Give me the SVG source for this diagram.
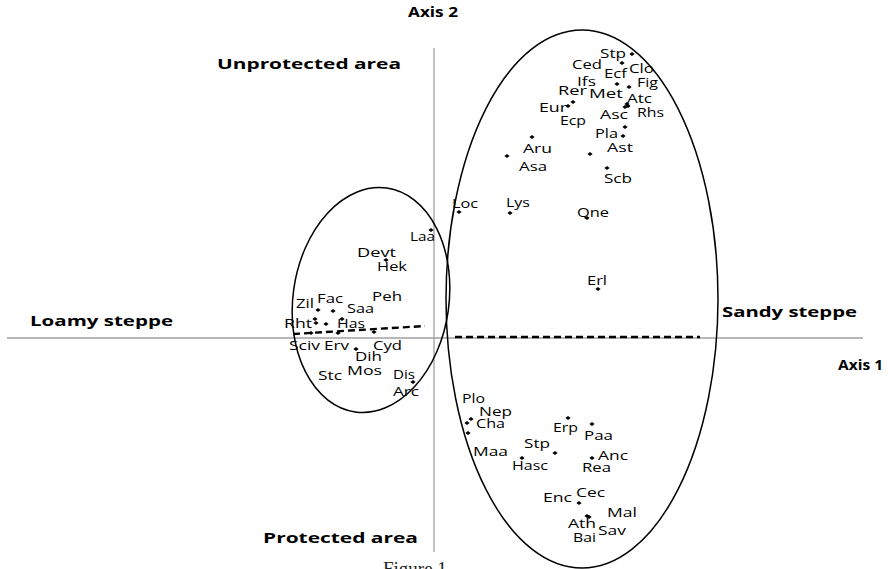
<svg xmlns="http://www.w3.org/2000/svg" xmlns:xlink="http://www.w3.org/1999/xlink" width="888" height="569" viewBox="0 0 888 569">
<style>
.lb{font-family:"Open Sans","Liberation Sans",sans-serif;font-size:12px;fill:#000}
.bd{font-family:"Open Sans","Liberation Sans",sans-serif;font-size:15px;font-weight:bold;fill:#000}
.ax{stroke:#a0a0a0;stroke-width:1.3;fill:none}
.el{stroke:#000;stroke-width:1.5;fill:none}
.ds{stroke:#000;stroke-width:2.4;fill:none;stroke-dasharray:7 4}
.cap{font-family:"Liberation Serif","Times New Roman",serif;font-size:19px;fill:#222}
</style>
<defs>
<path id="dot" d="M-2.6 0L0-2L2.6 0L0 2Z" fill="#000"/>
</defs>
<rect width="888" height="569" fill="#fff"/>
<g id="axes">
<line class="ax" x1="7" y1="338" x2="863" y2="338"/>
<line class="ax" x1="434" y1="48" x2="434" y2="552"/>
</g>
<g id="connectors">
<ellipse id="loamy-ellipse" class="el" cx="371" cy="300" rx="78" ry="113" transform="rotate(8 371 300)"/>
<ellipse id="sandy-ellipse" class="el" cx="582" cy="299" rx="136" ry="269"/>
<line class="ds" x1="293" y1="334" x2="425" y2="326"/>
<line class="ds" x1="455" y1="337" x2="700" y2="337"/>
</g>
<g id="titles">
<text class="bd" x="408" y="17" font-size="14" textLength="50" lengthAdjust="spacingAndGlyphs">Axis 2</text>
<text class="bd" x="217" y="69" textLength="184" lengthAdjust="spacingAndGlyphs">Unprotected area</text>
<text class="bd" x="30" y="326" textLength="143" lengthAdjust="spacingAndGlyphs">Loamy steppe</text>
<text class="bd" x="722" y="317" textLength="135" lengthAdjust="spacingAndGlyphs">Sandy steppe</text>
<text class="bd" x="838" y="370" font-size="14" textLength="45" lengthAdjust="spacingAndGlyphs">Axis 1</text>
<text class="bd" x="263" y="543" font-size="16" textLength="155" lengthAdjust="spacingAndGlyphs">Protected area</text>
<text class="cap" x="383" y="575">Figure 1</text>
</g>
<g id="dots">
<use href="#dot" x="431" y="230"/><use href="#dot" x="386" y="260"/><use href="#dot" x="318" y="310"/><use href="#dot" x="333" y="311"/><use href="#dot" x="342" y="319"/><use href="#dot" x="326" y="324"/><use href="#dot" x="315" y="319"/><use href="#dot" x="316" y="323"/><use href="#dot" x="311" y="333"/><use href="#dot" x="338" y="333"/><use href="#dot" x="374" y="332"/><use href="#dot" x="356" y="349"/><use href="#dot" x="413" y="382"/>
<use href="#dot" x="632" y="54"/><use href="#dot" x="622" y="63"/><use href="#dot" x="617" y="84"/><use href="#dot" x="629" y="87"/><use href="#dot" x="627" y="104"/><use href="#dot" x="628" y="106"/><use href="#dot" x="625" y="107"/><use href="#dot" x="573" y="102"/><use href="#dot" x="568" y="106"/><use href="#dot" x="625" y="127"/><use href="#dot" x="623" y="136"/><use href="#dot" x="532" y="137"/><use href="#dot" x="507" y="156"/><use href="#dot" x="590" y="154"/><use href="#dot" x="607" y="168"/><use href="#dot" x="459" y="212"/><use href="#dot" x="510" y="213"/><use href="#dot" x="587" y="218"/><use href="#dot" x="598" y="289"/>
<use href="#dot" x="471" y="419"/><use href="#dot" x="467" y="423"/><use href="#dot" x="468" y="433"/><use href="#dot" x="568" y="418"/><use href="#dot" x="592" y="424"/><use href="#dot" x="555" y="453"/><use href="#dot" x="522" y="458"/><use href="#dot" x="592" y="458"/><use href="#dot" x="579" y="503"/><use href="#dot" x="587" y="516"/><use href="#dot" x="589" y="517"/>
</g>
<g id="loamy-labels">
<text class="lb" x="410" y="241" textLength="25" lengthAdjust="spacingAndGlyphs">Laa</text>
<text class="lb" x="357" y="257" textLength="39" lengthAdjust="spacingAndGlyphs">Devt</text>
<text class="lb" x="377" y="271" textLength="30" lengthAdjust="spacingAndGlyphs">Hek</text>
<text class="lb" x="372" y="301" textLength="30" lengthAdjust="spacingAndGlyphs">Peh</text>
<text class="lb" x="317" y="303" textLength="26" lengthAdjust="spacingAndGlyphs">Fac</text>
<text class="lb" x="296" y="308" textLength="18" lengthAdjust="spacingAndGlyphs">Zil</text>
<text class="lb" x="347" y="313" textLength="27" lengthAdjust="spacingAndGlyphs">Saa</text>
<text class="lb" x="284" y="328" textLength="28" lengthAdjust="spacingAndGlyphs">Rht</text>
<text class="lb" x="337" y="328" textLength="28" lengthAdjust="spacingAndGlyphs">Has</text>
<text class="lb" x="289" y="350" textLength="31" lengthAdjust="spacingAndGlyphs">Sciv</text>
<text class="lb" x="324" y="350" textLength="25" lengthAdjust="spacingAndGlyphs">Erv</text>
<text class="lb" x="373" y="350" textLength="29" lengthAdjust="spacingAndGlyphs">Cyd</text>
<text class="lb" x="355" y="361" textLength="27" lengthAdjust="spacingAndGlyphs">Dih</text>
<text class="lb" x="347" y="375" textLength="35" lengthAdjust="spacingAndGlyphs">Mos</text>
<text class="lb" x="318" y="380" textLength="24" lengthAdjust="spacingAndGlyphs">Stc</text>
<text class="lb" x="393" y="379" textLength="22" lengthAdjust="spacingAndGlyphs">Dis</text>
<text class="lb" x="393" y="396" textLength="26" lengthAdjust="spacingAndGlyphs">Arc</text>
</g>
<g id="sandy-unprotected-labels">
<text class="lb" x="600" y="58" textLength="26" lengthAdjust="spacingAndGlyphs">Stp</text>
<text class="lb" x="572" y="69" textLength="30" lengthAdjust="spacingAndGlyphs">Ced</text>
<text class="lb" x="629" y="73" textLength="25" lengthAdjust="spacingAndGlyphs">Clo</text>
<text class="lb" x="604" y="78" textLength="23" lengthAdjust="spacingAndGlyphs">Ecf</text>
<text class="lb" x="637" y="87" textLength="21" lengthAdjust="spacingAndGlyphs">Fig</text>
<text class="lb" x="577" y="86" textLength="19" lengthAdjust="spacingAndGlyphs">Ifs</text>
<text class="lb" x="558" y="95" textLength="29" lengthAdjust="spacingAndGlyphs">Rer</text>
<text class="lb" x="589" y="98" textLength="34" lengthAdjust="spacingAndGlyphs">Met</text>
<text class="lb" x="627" y="103" textLength="25" lengthAdjust="spacingAndGlyphs">Atc</text>
<text class="lb" x="539" y="112" textLength="28" lengthAdjust="spacingAndGlyphs">Eur</text>
<text class="lb" x="637" y="117" textLength="27" lengthAdjust="spacingAndGlyphs">Rhs</text>
<text class="lb" x="600" y="119" textLength="28" lengthAdjust="spacingAndGlyphs">Asc</text>
<text class="lb" x="560" y="125" textLength="26" lengthAdjust="spacingAndGlyphs">Ecp</text>
<text class="lb" x="595" y="138" textLength="23" lengthAdjust="spacingAndGlyphs">Pla</text>
<text class="lb" x="523" y="153" textLength="29" lengthAdjust="spacingAndGlyphs">Aru</text>
<text class="lb" x="607" y="152" textLength="26" lengthAdjust="spacingAndGlyphs">Ast</text>
<text class="lb" x="519" y="171" textLength="28" lengthAdjust="spacingAndGlyphs">Asa</text>
<text class="lb" x="604" y="183" textLength="28" lengthAdjust="spacingAndGlyphs">Scb</text>
<text class="lb" x="452" y="208" textLength="26" lengthAdjust="spacingAndGlyphs">Loc</text>
<text class="lb" x="506" y="207" textLength="24" lengthAdjust="spacingAndGlyphs">Lys</text>
<text class="lb" x="577" y="217" textLength="32" lengthAdjust="spacingAndGlyphs">Qne</text>
<text class="lb" x="587" y="285" textLength="20" lengthAdjust="spacingAndGlyphs">Erl</text>
</g>
<g id="sandy-protected-labels">
<text class="lb" x="462" y="403" textLength="23" lengthAdjust="spacingAndGlyphs">Plo</text>
<text class="lb" x="479" y="416" textLength="33" lengthAdjust="spacingAndGlyphs">Nep</text>
<text class="lb" x="476" y="428" textLength="29" lengthAdjust="spacingAndGlyphs">Cha</text>
<text class="lb" x="473" y="456" textLength="35" lengthAdjust="spacingAndGlyphs">Maa</text>
<text class="lb" x="553" y="432" textLength="25" lengthAdjust="spacingAndGlyphs">Erp</text>
<text class="lb" x="584" y="440" textLength="29" lengthAdjust="spacingAndGlyphs">Paa</text>
<text class="lb" x="524" y="448" textLength="26" lengthAdjust="spacingAndGlyphs">Stp</text>
<text class="lb" x="512" y="470" textLength="36" lengthAdjust="spacingAndGlyphs">Hasc</text>
<text class="lb" x="598" y="460" textLength="30" lengthAdjust="spacingAndGlyphs">Anc</text>
<text class="lb" x="582" y="472" textLength="29" lengthAdjust="spacingAndGlyphs">Rea</text>
<text class="lb" x="576" y="497" textLength="29" lengthAdjust="spacingAndGlyphs">Cec</text>
<text class="lb" x="543" y="502" textLength="29" lengthAdjust="spacingAndGlyphs">Enc</text>
<text class="lb" x="607" y="517" textLength="30" lengthAdjust="spacingAndGlyphs">Mal</text>
<text class="lb" x="568" y="528" textLength="28" lengthAdjust="spacingAndGlyphs">Ath</text>
<text class="lb" x="598" y="535" textLength="28" lengthAdjust="spacingAndGlyphs">Sav</text>
<text class="lb" x="573" y="542" textLength="23" lengthAdjust="spacingAndGlyphs">Bai</text>
</g>
</svg>
